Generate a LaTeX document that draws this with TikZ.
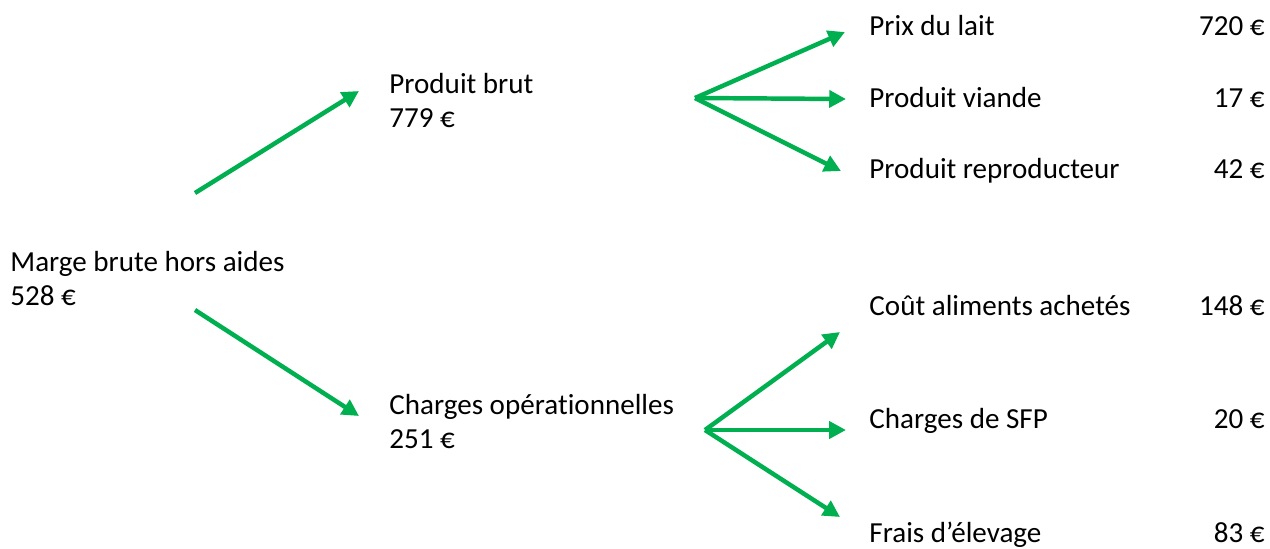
\documentclass[tikz,border=0pt]{standalone}
\usepackage{fontspec}
\setmainfont{Carlito}[Ligatures={NoCommon}]
\usetikzlibrary{arrows.meta}
\definecolor{ogreen}{HTML}{00B050}
\tikzset{
  lbl/.style={inner sep=0pt, align=left, font=\fontsize{13pt}{15pt}\selectfont},
  val/.style={inner sep=0pt, font=\fontsize{13pt}{15pt}\selectfont},
  arr/.style={draw=ogreen, line width=2pt, -{Triangle[length=7.5pt,width=7.5pt]}}
}
\begin{document}
\begin{tikzpicture}[x=0.01572cm, y=-0.01572cm]
\useasboundingbox (0,0) rectangle (1270,548);
% left (base anchor = last line)
\node[lbl, anchor=base west] (mb) at (10,305) {Marge brute hors aides\\528 €};
\node[lbl, anchor=base west] (pb) at (389,127) {Produit brut\\779 €};
\node[lbl, anchor=base west] (co) at (389,448) {Charges opérationnelles\\251 €};
% right labels
\node[val, anchor=base west] (l1) at (869,35) {Prix du lait};
\node[val, anchor=base west] (l2) at (869,107) {Produit viande};
\node[val, anchor=base west] (l3) at (869,178) {Produit reproducteur};
\node[val, anchor=base west] (l4) at (869,315) {Coût aliments achetés};
\node[val, anchor=base west] (l5) at (869,428) {Charges de SFP};
\node[val, anchor=base west] (l6) at (869,542) {Frais d’élevage};
\node[val, anchor=base east] (v1) at (1265,35) {720 €};
\node[val, anchor=base east] (v2) at (1265,107) {17 €};
\node[val, anchor=base east] (v3) at (1265,178) {42 €};
\node[val, anchor=base east] (v4) at (1265,315) {148 €};
\node[val, anchor=base east] (v5) at (1265,428) {20 €};
\node[val, anchor=base east] (v6) at (1265,542) {83 €};
% connector coordinates
\coordinate (s1) at (195,193);
\coordinate (t1) at (359,91);
\coordinate (s2) at (195,310);
\coordinate (t2) at (359,416);
\coordinate (h1) at (695,98);
\coordinate (a1) at (845,32);
\coordinate (a2) at (846,99);
\coordinate (a3) at (841,171);
\coordinate (h2) at (705,430);
\coordinate (b1) at (840,332);
\coordinate (b2) at (846,430);
\coordinate (b3) at (840,517);
\draw[arr] (s1) -- (t1);
\draw[arr] (s2) -- (t2);
\draw[arr] (h1) -- (a1);
\draw[arr] (h1) -- (a2);
\draw[arr] (h1) -- (a3);
\draw[arr] (h2) -- (b1);
\draw[arr] (h2) -- (b2);
\draw[arr] (h2) -- (b3);
\end{tikzpicture}
\end{document}
